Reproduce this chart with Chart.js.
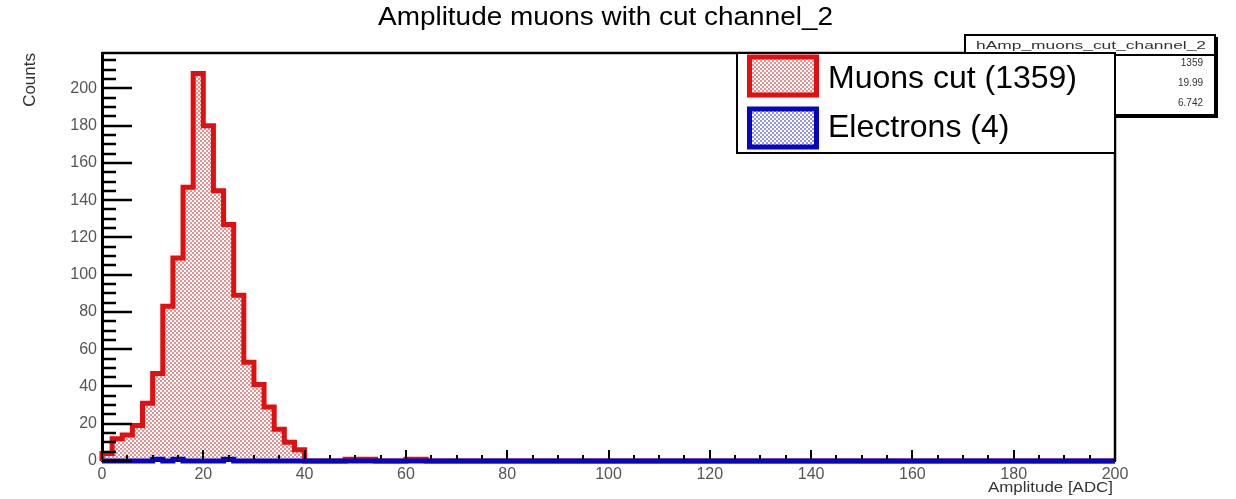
<!DOCTYPE html>
<html>
<head>
<meta charset="utf-8">
<script src="https://cdn.jsdelivr.net/npm/chart.js@4"></script>
<style>
  body { margin: 0; background: #fff; }
  canvas { display: block; }
</style>
</head>
<body>
<canvas id="c" width="1236" height="499"></canvas>
<script>
// histogram binning (ADC)
const xMin = 0, xMax = 200, binWidth = 2;
const yMax = 219;

// counts per 2-ADC bin, 100 bins from 0 to 200
const muonCounts = [
	4, 12, 14, 19, 31, 47, 83, 109, 147, 208,
	180, 145, 127, 89, 53, 41, 29, 17, 10, 6,
	0, 0, 0, 0, 1, 1, 1, 0, 0, 0,
	1, 1, 0, 0, 0, 0, 0, 0, 0, 0,
	0, 0, 0, 0, 0, 0, 0, 0, 0, 0,
	0, 0, 0, 0, 0, 0, 0, 0, 0, 0,
	0, 0, 0, 0, 0, 0, 0, 0, 0, 0,
	0, 0, 0, 0, 0, 0, 0, 0, 0, 0,
	0, 0, 0, 0, 0, 0, 0, 0, 0, 0,
	0, 0, 0, 0, 0, 0, 0, 0, 0, 0
];
const electronCounts = [
	0, 0, 0, 0, 0, 1, 0, 1, 0, 0,
	0, 0, 1, 0, 0, 0, 0, 0, 0, 0,
	0, 0, 0, 0, 0, 0, 0, 0, 0, 0,
	0, 0, 0, 0, 0, 0, 0, 0, 0, 0,
	0, 0, 0, 0, 0, 0, 0, 0, 0, 0,
	0, 0, 0, 0, 0, 0, 0, 0, 0, 0,
	0, 0, 0, 0, 0, 0, 0, 0, 0, 0,
	0, 0, 0, 0, 0, 0, 0, 0, 0, 0,
	0, 0, 0, 0, 0, 0, 0, 0, 0, 0,
	0, 0, 0, 0, 0, 0, 0, 0, 0, 0
];

const legendLabels = ['Muons cut (1359)', 'Electrons (4)'];
const statsName = 'hAmp_muons_cut_channel_2';
const statsValues = ['1359', '19.99', '6.742'];

const titleText = 'Amplitude muons with cut channel_2';
const xTitle = 'Amplitude [ADC]';
const yTitle = 'Counts';

const RED = '#e01010';
const BLUE = '#0606c0';
const FONT = '"Liberation Sans", Arial, Helvetica, sans-serif';

// outline points for a stepped histogram (value holds until next edge)
function histPoints(counts) {
	const pts = [{ x: xMin, y: 0 }];
	counts.forEach((c, i) => pts.push({ x: xMin + i * binWidth, y: c }));
	pts.push({ x: xMax, y: 0 });
	return pts;
}

const canvas = document.getElementById('c');
const ctx = canvas.getContext('2d');

function checker(color) {
	const p = document.createElement('canvas');
	p.width = 4; p.height = 4;
	const g = p.getContext('2d');
	g.fillStyle = color;
	g.fillRect(0, 0, 2, 2);
	g.fillRect(2, 2, 2, 2);
	return ctx.createPattern(p, 'repeat');
}
const redFill = checker('#e89090');
const blueFill = checker('#9494ec');

// text squeezed / stretched horizontally to a given width
function fitText(c, text, x, y, width, align) {
	const w = c.measureText(text).width;
	const sx = width / w;
	c.save();
	c.translate(x, y);
	c.scale(sx, 1);
	c.textAlign = align;
	c.fillText(text, 0, 0);
	c.restore();
}

const rootFrame = {
	id: 'rootFrame',
	afterDatasetsDraw(chart) {
		const { ctx, chartArea: a, scales: { x, y } } = chart;
		ctx.save();
		ctx.strokeStyle = '#000';
		ctx.lineWidth = 2.5;
		ctx.beginPath();
		ctx.moveTo(a.left, a.top);
		ctx.lineTo(a.right, a.top);
		ctx.lineTo(a.right, a.bottom);
		ctx.stroke();
		// ticks inside the frame
		ctx.lineWidth = 2.5;
		ctx.beginPath();
		for (let v = 0; v <= yMax; v += 5) {
			const py = Math.round(y.getPixelForValue(v));
			const len = v % 20 === 0 ? 30 : 14;
			ctx.moveTo(a.left, py);
			ctx.lineTo(a.left + len, py);
		}
		ctx.stroke();
		ctx.lineWidth = 2;
		ctx.beginPath();
		for (let v = xMin; v <= xMax; v += 5) {
			const px = Math.round(x.getPixelForValue(v));
			const len = v % 20 === 0 ? 9 : 4;
			ctx.moveTo(px, a.bottom - 2);
			ctx.lineTo(px, a.bottom - 2 - len);
		}
		ctx.stroke();
		ctx.restore();
	},
	afterDraw(chart) {
		const { ctx } = chart;
		ctx.save();
		ctx.fillStyle = '#000';
		ctx.textBaseline = 'alphabetic';

		// title
		ctx.font = `26px ${FONT}`;
		fitText(ctx, titleText, 605.5, 25, 455, 'center');

		// axis titles
		ctx.fillStyle = '#333';
		ctx.font = `15px ${FONT}`;
		fitText(ctx, xTitle, 1113, 492, 125, 'right');
		ctx.save();
		ctx.translate(35, 53);
		ctx.rotate(-Math.PI / 2);
		ctx.font = `17px ${FONT}`;
		ctx.textAlign = 'right';
		ctx.fillText(yTitle, 0, 0);
		ctx.restore();

		// stats box (partly hidden under legend)
		ctx.fillStyle = '#000';
		ctx.fillRect(967, 37, 251, 81);
		ctx.fillStyle = '#fff';
		ctx.fillRect(965, 35, 250, 80);
		ctx.strokeStyle = '#000';
		ctx.lineWidth = 2;
		ctx.strokeRect(965, 35, 250, 80);
		ctx.beginPath();
		ctx.moveTo(965, 55);
		ctx.lineTo(1215, 55);
		ctx.stroke();
		ctx.fillStyle = '#333';
		ctx.font = `11px ${FONT}`;
		fitText(ctx, statsName, 1091, 49, 230, 'center');
		ctx.font = `10px ${FONT}`;
		ctx.textAlign = 'right';
		statsValues.forEach((v, i) => ctx.fillText(v, 1203, 66 + i * 20));

		// legend
		ctx.fillStyle = '#fff';
		ctx.fillRect(737, 53, 378, 100);
		ctx.lineWidth = 2;
		ctx.strokeRect(737, 53, 378, 100);
		const marks = [
			{ fill: redFill, line: RED, top: 57, base: 88 },
			{ fill: blueFill, line: BLUE, top: 109, base: 137 }
		];
		marks.forEach((m, i) => {
			ctx.fillStyle = '#fff';
			ctx.fillRect(749.5, m.top, 67, 38);
			ctx.fillStyle = m.fill;
			ctx.fillRect(749.5, m.top, 67, 38);
			ctx.strokeStyle = m.line;
			ctx.lineWidth = 5;
			ctx.strokeRect(749.5, m.top, 67, 38);
			ctx.fillStyle = '#000';
			ctx.font = `32px ${FONT}`;
			ctx.textAlign = 'left';
			ctx.fillText(legendLabels[i], 828, m.base);
		});
		ctx.restore();
	}
};

new Chart(ctx, {
	type: 'line',
	data: {
		datasets: [
			{
				label: legendLabels[0],
				data: histPoints(muonCounts),
				order: 1,
				clip: false,
				stepped: true,
				borderColor: RED,
				borderWidth: 5,
				backgroundColor: redFill,
				fill: 'origin',
				pointRadius: 0,
				tension: 0,
				borderJoinStyle: 'miter'
			},
			{
				label: legendLabels[1],
				data: histPoints(electronCounts),
				order: 0,
				clip: false,
				stepped: true,
				borderColor: BLUE,
				borderWidth: 5,
				backgroundColor: blueFill,
				fill: 'origin',
				pointRadius: 0,
				tension: 0,
				borderJoinStyle: 'miter'
			}
		]
	},
	options: {
		responsive: false,
		animation: false,
		devicePixelRatio: 1,
		layout: { padding: { top: 53, right: 121, left: 0, bottom: 0 } },
		plugins: {
			legend: { display: false },
			title: { display: false },
			tooltip: { enabled: false }
		},
		scales: {
			x: {
				type: 'linear',
				min: xMin,
				max: xMax,
				grid: { display: false, drawTicks: false },
				border: { display: true, color: '#000', width: 2 },
				ticks: {
					stepSize: 20,
					includeBounds: false,
					autoSkip: false,
					maxRotation: 0,
					padding: 4,
					color: '#555',
					font: { family: FONT, size: 16 }
				},
				afterFit: (s) => { s.height = 38; }
			},
			y: {
				min: 0,
				max: yMax,
				grid: { display: false, drawTicks: false },
				border: { display: true, color: '#000', width: 3 },
				ticks: {
					stepSize: 20,
					includeBounds: false,
					autoSkip: false,
					padding: 5,
					color: '#555',
					font: { family: FONT, size: 16 }
				},
				afterFit: (s) => { s.width = 102; }
			}
		}
	},
	plugins: [rootFrame]
});
</script>
</body>
</html>
